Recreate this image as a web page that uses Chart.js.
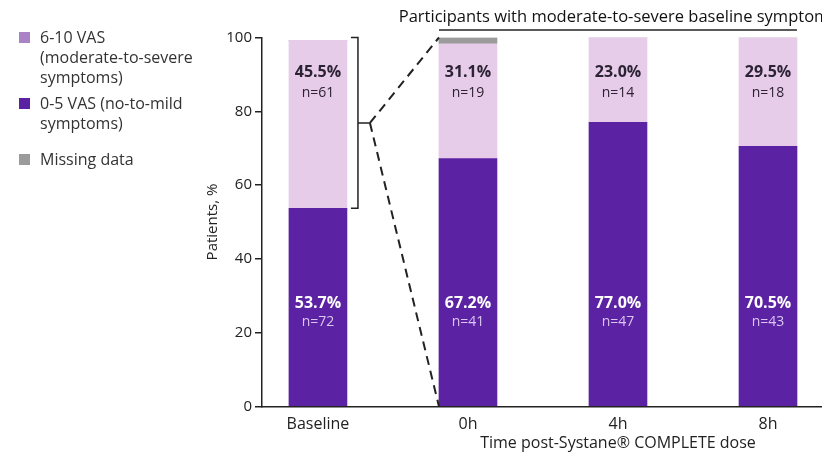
<!DOCTYPE html>
<html>
<head>
<meta charset="utf-8">
<script src="https://cdn.jsdelivr.net/npm/chart.js@4/dist/chart.umd.min.js"></script>
<style>
  html, body { margin: 0; padding: 0; background: #ffffff; }
  #wrap { position: relative; width: 822px; height: 453px; }
</style>
</head>
<body>
<div id="wrap"><canvas id="chart"></canvas></div>
<script>
// Time points on the x axis
const categories = ['Baseline', '0h', '4h', '8h'];

// 0-5 VAS (no-to-mild symptoms), % of patients and counts
const mildPct = [53.7, 67.2, 77.0, 70.5];
const mildN = [72, 41, 47, 43];

// 6-10 VAS (moderate-to-severe symptoms), % of patients and counts
const severePct = [45.5, 31.1, 23.0, 29.5];
const severeN = [61, 19, 14, 18];

// Missing data, % of patients
const missingPct = [0, 1.7, 0, 0];

// Y axis ticks
const yTicks = [0, 20, 40, 60, 80, 100];

// Legend entries (multi-line text)
const legendSevere = ['6-10 VAS', '(moderate-to-severe', 'symptoms)'];
const legendMild = ['0-5 VAS (no-to-mild', 'symptoms)'];
const legendMissing = ['Missing data'];

const groupTitle = 'Participants with moderate-to-severe baseline symptoms';
const xTitle = 'Time post-Systane\u00AE COMPLETE dose';
const yTitle = 'Patients, %';

const FONT = '"Open Sans", "Liberation Sans", sans-serif';
const INK = '#222222';
const DARK = '#5b22a3';
const LIGHT = '#e6cce9';
const GREY = '#9b9b9b';
const BAR_W = 58;

const toPoints = arr => arr.map((v, i) => ({ x: i, y: v }));

const overlay = {
  id: 'overlay',
  afterDatasetsDraw(chart) {
    const { ctx, scales: { x, y }, chartArea } = chart;
    ctx.save();

    // Value labels inside the bars
    ctx.textAlign = 'center';
    ctx.textBaseline = 'middle';
    categories.forEach((c, i) => {
      const cx = x.getPixelForValue(i);
      // upper (moderate-to-severe) segment
      ctx.fillStyle = '#2b2233';
      ctx.font = `bold 16px ${FONT}`;
      ctx.fillText(severePct[i].toFixed(1) + '%', cx, y.getPixelForValue(90.4));
      ctx.font = `14px ${FONT}`;
      ctx.fillText('n=' + severeN[i], cx, y.getPixelForValue(85));
      // lower (no-to-mild) segment
      ctx.fillStyle = '#ffffff';
      ctx.font = `bold 16px ${FONT}`;
      ctx.fillText(mildPct[i].toFixed(1) + '%', cx, y.getPixelForValue(28));
      ctx.fillStyle = '#dcc6f0';
      ctx.font = `14px ${FONT}`;
      ctx.fillText('n=' + mildN[i], cx, y.getPixelForValue(22.9));
    });

    // Bracket around the baseline moderate-to-severe segment
    const bx = x.getPixelForValue(0) + BAR_W / 2 + 11;
    const bTop = y.getPixelForValue(100);
    const bBot = y.getPixelForValue(mildPct[0]);
    const bMid = (bTop + bBot) / 2;
    ctx.strokeStyle = INK;
    ctx.lineWidth = 1.5;
    ctx.beginPath();
    ctx.moveTo(bx - 7, bTop); ctx.lineTo(bx, bTop);
    ctx.lineTo(bx, bBot); ctx.lineTo(bx - 7, bBot);
    ctx.moveTo(bx, bMid); ctx.lineTo(bx + 12, bMid);
    ctx.stroke();

    // Dashed zoom lines to the 0h bar
    const zx = x.getPixelForValue(1) - BAR_W / 2;
    ctx.setLineDash([9, 6]);
    ctx.lineWidth = 2;
    ctx.beginPath();
    ctx.moveTo(bx + 12, bMid); ctx.lineTo(zx, bTop);
    ctx.moveTo(bx + 12, bMid); ctx.lineTo(zx, y.getPixelForValue(0));
    ctx.stroke();
    ctx.setLineDash([]);

    // Group title with underline over the post-dose bars
    const gl = x.getPixelForValue(1) - BAR_W / 2;
    const gr = x.getPixelForValue(3) + BAR_W / 2;
    const gc = (gl + gr) / 2;
    ctx.lineWidth = 1.5;
    ctx.beginPath();
    ctx.moveTo(gl, chartArea.top - 7.5); ctx.lineTo(gr, chartArea.top - 7.5);
    ctx.stroke();
    ctx.fillStyle = '#111111';
    ctx.font = `16.5px ${FONT}`;
    ctx.fillText(groupTitle, gc, 17);

    // X axis title
    ctx.font = `16px ${FONT}`;
    ctx.fillStyle = INK;
    ctx.fillText(xTitle, gc, 443);

    // Legend
    const items = [
      { lines: legendSevere, color: '#a983c6', y0: 38 },
      { lines: legendMild, color: DARK, y0: 104 },
      { lines: legendMissing, color: GREY, y0: 160 }
    ];
    ctx.textAlign = 'left';
    ctx.font = `16px ${FONT}`;
    items.forEach(it => {
      ctx.fillStyle = it.color;
      ctx.fillRect(19, it.y0 - 6, 11, 11);
      ctx.fillStyle = '#333333';
      it.lines.forEach((t, k) => ctx.fillText(t, 40, it.y0 + k * 20));
    });

    ctx.restore();
  }
};

new Chart(document.getElementById('chart'), {
  type: 'bar',
  data: {
    datasets: [
      { label: legendMild.join(' '), data: toPoints(mildPct), backgroundColor: DARK },
      { label: legendSevere.join(' '), data: toPoints(severePct), backgroundColor: LIGHT },
      { label: legendMissing.join(' '), data: toPoints(missingPct), backgroundColor: GREY }
    ]
  },
  options: {
    responsive: true,
    maintainAspectRatio: false,
    animation: false,
    events: [],
    barThickness: BAR_W,
    layout: { padding: { left: 204, top: 37.5, right: 0, bottom: 0 } },
    plugins: { legend: { display: false }, tooltip: { enabled: false } },
    scales: {
      x: {
        type: 'linear',
        stacked: true,
        offset: false,
        min: -0.373,
        max: 3.36,
        afterBuildTicks: s => { s.ticks = categories.map((_, i) => ({ value: i })); },
        afterFit: s => { s.height = 46.5; },
        grid: { display: false, drawTicks: false, offset: false },
        border: { color: INK, width: 1.5 },
        ticks: {
          autoSkip: false,
          maxRotation: 0,
          padding: 8,
          color: INK,
          font: { family: FONT, size: 16 },
          callback: v => categories[v] ?? ''
        }
      },
      y: {
        stacked: true,
        min: 0,
        max: 100,
        afterBuildTicks: s => { s.ticks = yTicks.map(v => ({ value: v })); },
        afterFit: s => { s.width = 58; },
        grid: { drawOnChartArea: false, tickLength: 7, color: INK, lineWidth: 1.5 },
        border: { color: INK, width: 1.5 },
        ticks: { color: INK, padding: 3, font: { family: FONT, size: 15 } },
        title: { display: true, text: yTitle, color: INK, padding: 0, font: { family: FONT, size: 15 } }
      }
    }
  },
  plugins: [overlay]
});
</script>
</body>
</html>
